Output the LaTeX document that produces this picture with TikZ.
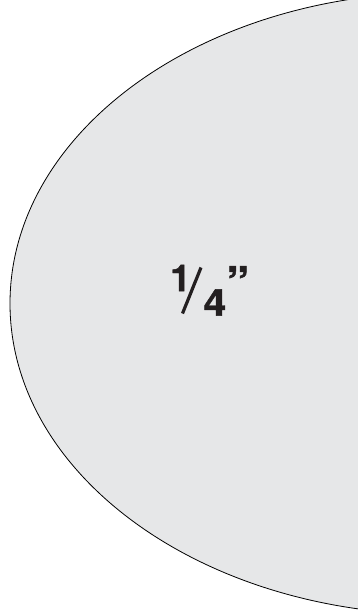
\documentclass[tikz,border=0pt]{standalone}
\usepackage{fontspec}
\newfontfamily\quarterfont{texgyreheros-bold.otf}[FakeBold=1.2]
\definecolor{discgray}{RGB}{230,231,232}
\definecolor{inkgray}{RGB}{35,31,32}
\begin{document}
\begin{tikzpicture}[x=1pt,y=-1pt,
    digit/.style={font=\quarterfont\fontsize{37}{37}\selectfont, text=inkgray, inner sep=0pt}]
  \useasboundingbox (0,0) rectangle (358,615);
  \clip (0,0) rectangle (358,615);
  \draw[fill=discgray, draw=black, line width=0.8pt] (440,303.5) ellipse [x radius=430, y radius=311];
  % one quarter inch
  \node[digit] (num) at (180.5,278) {1};
  \node[digit] (den) at (215,302.5) {\scalebox{1.1}[1]{4}};
  \coordinate (slashlo) at (182.5,313.5);
  \coordinate (slashhi) at (201,267.5);
  \draw[inkgray, line width=3.2pt] (slashlo) -- (slashhi);
  \node[font=\quarterfont\fontsize{46}{46}\selectfont, text=inkgray, inner sep=0pt, anchor=north west] (inch) at (226,266) {”};
\end{tikzpicture}
\end{document}
